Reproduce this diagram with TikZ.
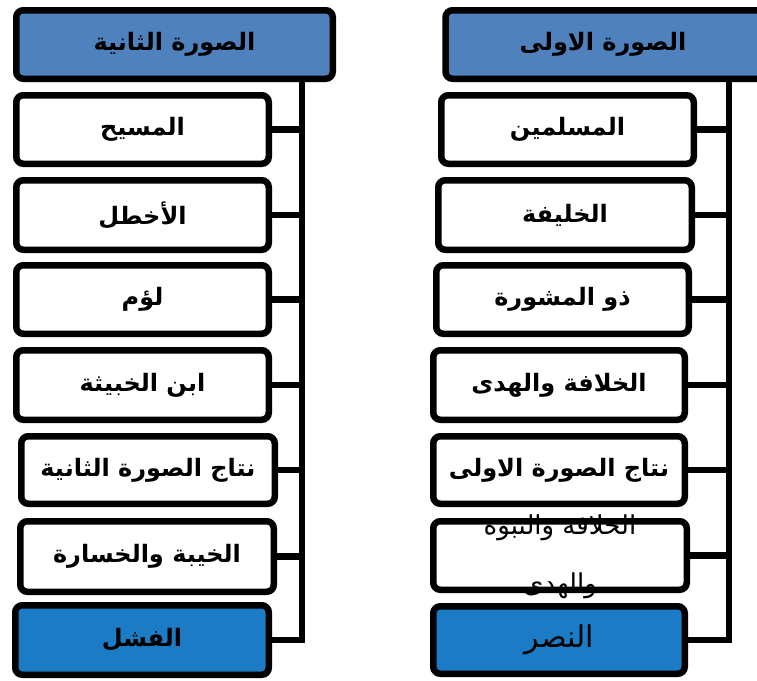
\documentclass[tikz,border=0pt]{standalone}
\usepackage{fontspec}
\TeXXeTstate=1
\newfontfamily\arfont[Script=Arabic]{DejaVu Sans}
\definecolor{hdrblue}{RGB}{79,129,189}
\definecolor{endblue}{RGB}{27,123,196}
\begin{document}
\begin{tikzpicture}[x=1pt,y=-1pt,
  box/.style={draw=black, line width=6.5pt, rounded corners=7pt, fill=white,
    outer sep=0pt, inner sep=0pt, text=black,
    font=\arfont\bfseries\fontsize{24}{28}\selectfont},
  sz/.style 2 args={minimum width=#1pt, minimum height=#2pt},
  hdr/.style={box, fill=hdrblue},
  endbox/.style={box, fill=endblue},
  plain/.style={font=\arfont\fontsize{26}{30}\selectfont},
  conn/.style={draw=black, line width=6.5pt},
]
\useasboundingbox (0,0) rectangle (757,680);
% left column
\node[hdr, sz={316.5}{68.5}] (HL) at (174.5,44.5) {\beginR الصورة الثانية\endR};
\node[box, sz={252.5}{68.5}] (L1) at (142.5,129.5) {\beginR المسيح\endR};
\node[box, sz={252.5}{69.5}] (L2) at (142.5,215) {\beginR الأخطل\endR};
\node[box, sz={252.5}{68.5}] (L3) at (142.5,299.5) {\beginR لؤم\endR};
\node[box, sz={252.5}{69.5}] (L4) at (142.5,385) {\beginR ابن الخبيثة\endR};
\node[box, sz={253.5}{67.5}] (L5) at (148,470) {\beginR نتاج الصورة الثانية\endR};
\node[box, sz={253.5}{70.5}] (L6) at (147,556.5) {\beginR الخيبة والخسارة\endR};
\node[endbox, sz={253.5}{69.5}] (L7) at (142,640) {\beginR الفشل\endR};
\coordinate (tL) at (302,82);
\draw[conn] (L7.east) -| (tL);
\foreach \n in {L1,L2,L3,L4,L5,L6} \draw[conn] (\n.east) -- (\n.east -| tL);
% right column
\node[hdr, sz={345}{68.5}] (HR) at (618,44.5) {};
\node[box, draw=none, fill=none] (HRt) at (603,44.5) {\beginR الصورة الاولى\endR};
\node[box, sz={252.5}{68.5}] (R1) at (567.5,129.5) {\beginR المسلمين\endR};
\node[box, sz={253.5}{69.5}] (R2) at (565,215) {\beginR الخليفة\endR};
\node[box, sz={252.5}{68.5}] (R3) at (562.5,299.5) {\beginR ذو المشورة\endR};
\node[box, sz={251.5}{69.5}] (R4) at (559,385) {\beginR الخلافة والهدى\endR};
\node[box, sz={251.5}{67.5}] (R5) at (559,470) {\beginR نتاج الصورة الاولى\endR};
\node[box, draw=none, sz={253.5}{68.5}] (R6) at (560,555.5) {};
\node[plain, align=center, text=black, inner sep=0pt] (R6t) at (560,557)
  {\beginR الخلافة والنبوة\endR\\[28pt]\beginR والهدى\endR};
\draw[line width=6.5pt, rounded corners=7pt] (R6.south west) rectangle (R6.north east);
\node[endbox, font=\arfont\fontsize{30}{34}\selectfont, sz={251.5}{67.5}] (R7) at (559,640) {\beginR النصر\endR};
\coordinate (tR) at (729,82);
\draw[conn] (R7.east) -| (tR);
\foreach \n in {R1,R2,R3,R4,R5,R6} \draw[conn] (\n.east) -- (\n.east -| tR);
\end{tikzpicture}
\end{document}
